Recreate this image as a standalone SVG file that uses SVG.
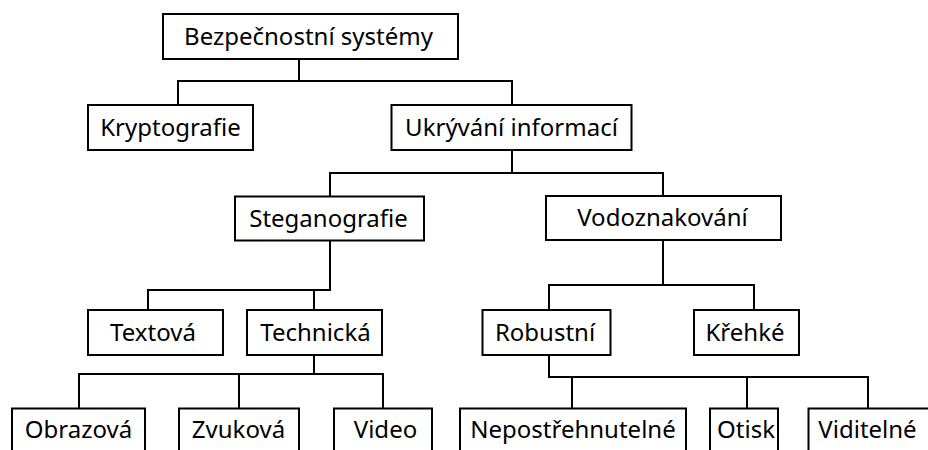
<svg xmlns="http://www.w3.org/2000/svg" width="928" height="450" viewBox="0 0 928 450">
<style>
rect{fill:#fff;stroke:#000;stroke-width:2}
text{font-family:"Noto Sans","Open Sans","DejaVu Sans",sans-serif;font-size:24px;fill:#000;text-anchor:middle}
.c path{fill:none;stroke:#000;stroke-width:2}
</style>
<rect x="0" y="0" width="928" height="450" style="stroke:none"/>
<g class="c" id="connectors">
<path d="M299,59 V81 M178,105 V81 H512 V105"/>
<path d="M512,150 V173 M330,196 V173 H663 V196"/>
<path d="M330,241 V290 H148 V310 M314,290 V310"/>
<path d="M314,355 V374 M79,408 V374 H383 V408 M239,374 V408"/>
<path d="M663,241 V285 M549,310 V285 H754 V310"/>
<path d="M549,355 V377 H868 V408 M572,377 V408 M747,377 V408"/>
</g>
<g id="n-root"><rect x="163" y="14" width="295" height="45"/><text x="308.5" y="44.5">Bezpečnostní systémy</text></g>
<g id="n-krypto"><rect x="88" y="105" width="165" height="45"/><text x="170.5" y="135.5">Kryptografie</text></g>
<g id="n-ukryvani"><rect x="391.5" y="105" width="240" height="45"/><text x="511.5" y="135.5">Ukrývání informací</text></g>
<g id="n-stegano"><rect x="235" y="196.5" width="189" height="44"/><text x="328.5" y="226.5">Steganografie</text></g>
<g id="n-vodozn"><rect x="546" y="196" width="235" height="44"/><text x="662.5" y="226">Vodoznakování</text></g>
<g id="n-textova"><rect x="88" y="310" width="135" height="45"/><text x="153" y="340.5">Textová</text></g>
<g id="n-technicka"><rect x="247" y="310" width="135" height="45"/><text x="315.5" y="340.5">Technická</text></g>
<g id="n-robustni"><rect x="482.5" y="310" width="128" height="45"/><text x="545" y="340.5">Robustní</text></g>
<g id="n-krehke"><rect x="694" y="310" width="105" height="45"/><text x="745" y="340.5">Křehké</text></g>
<g id="n-obrazova"><rect x="12" y="408.5" width="133" height="45"/><text x="78.5" y="438">Obrazová</text></g>
<g id="n-zvukova"><rect x="179" y="408.5" width="120" height="45"/><text x="238.5" y="438">Zvuková</text></g>
<g id="n-video"><rect x="334" y="408.5" width="98" height="45"/><text x="385.5" y="438">Video</text></g>
<g id="n-nepostr"><rect x="460" y="408.5" width="226" height="45"/><text x="573" y="438">Nepostřehnutelné</text></g>
<g id="n-otisk"><rect x="710" y="408.5" width="68" height="45"/><text x="746" y="438">Otisk</text></g>
<g id="n-viditelne"><rect x="808.5" y="408.5" width="125" height="45"/><text x="867.5" y="438">Viditelné</text></g>
</svg>
